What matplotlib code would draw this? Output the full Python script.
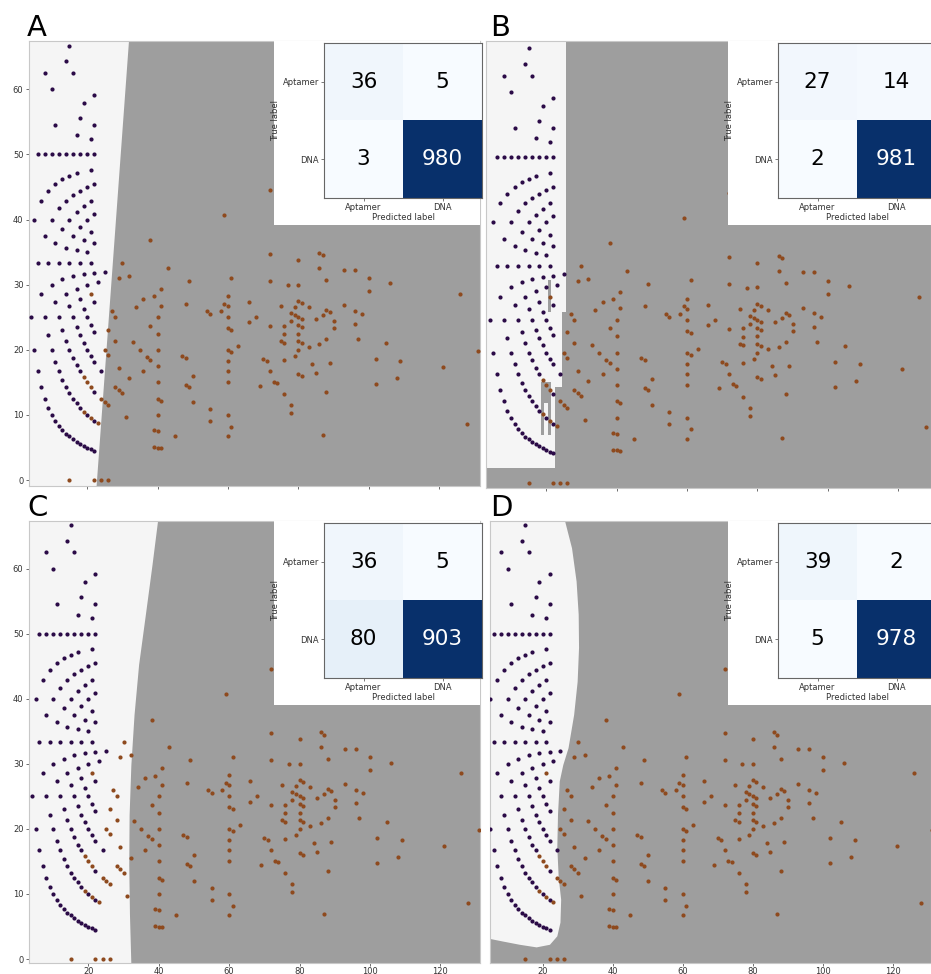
import numpy as np
import matplotlib
matplotlib.use('Agg')
import matplotlib.pyplot as plt
from matplotlib.patches import Polygon, Rectangle

W, H = 931, 974

# aptamer samples: length vs percentage
apt_x = [15, 14, 8, 16, 10, 22, 19, 18, 11, 22, 17, 21,
         6, 8, 10, 12, 14, 16, 18, 20, 22,
         21, 17, 15, 13, 11, 22, 20, 9, 18, 16, 7, 14, 21, 19, 12, 17, 22,
         5, 10, 15, 20,
         18, 13, 21, 8, 16, 19, 11, 22, 14, 17, 20,
         6, 9, 12, 15, 18, 21,
         25, 22, 19, 16, 13, 23, 10, 20, 17, 7, 14, 18, 11, 22, 15, 19,
         4, 8, 12, 16, 20,
         21, 17, 13, 22, 9, 18, 14, 19,
         5, 10, 15, 20,
         21, 16, 11, 22, 17, 6, 12, 18, 24, 13, 7, 14, 22, 15, 8, 16, 17, 9, 18, 10, 20, 11, 22,
         12, 13, 14, 15, 16, 17, 18, 19, 20, 21, 22]
apt_y = [66.7, 64.3, 62.5, 62.5, 60.0, 59.1, 57.9, 55.6, 54.5, 54.5, 52.9, 52.4,
         50, 50, 50, 50, 50, 50, 50, 50, 50,
         47.6, 47.1, 46.7, 46.2, 45.5, 45.5, 45.0, 44.4, 44.4, 43.8, 42.9, 42.9, 42.9, 42.1, 41.7, 41.2, 40.9,
         40, 40, 40, 40,
         38.9, 38.5, 38.1, 37.5, 37.5, 36.8, 36.4, 36.4, 35.7, 35.3, 35.0,
         33.3, 33.3, 33.3, 33.3, 33.3, 33.3,
         32.0, 31.8, 31.6, 31.3, 30.8, 30.4, 30.0, 30.0, 29.4, 28.6, 28.6, 27.8, 27.3, 27.3, 26.7, 26.3,
         25, 25, 25, 25, 25,
         23.8, 23.5, 23.1, 22.7, 22.2, 22.2, 21.4, 21.1,
         20, 20, 20, 20,
         19.0, 18.8, 18.2, 18.2, 17.6, 16.7, 16.7, 16.7, 16.7, 15.4, 14.3, 14.3, 13.6, 13.3, 12.5, 12.5, 11.8, 11.1, 11.1, 10.0, 10.0, 9.1, 9.1,
         8.3, 7.7, 7.1, 6.7, 6.3, 5.9, 5.6, 5.3, 5.0, 4.8, 4.5]

# DNA samples
dna_x = [15, 22, 24, 26,
         21, 19, 20, 21, 19, 21, 23, 24, 25, 26,
         30, 29, 32, 27, 28, 26, 28, 25, 26, 29, 32, 28, 29, 30, 31, 33,
         38, 59, 72,
         43, 49, 61, 72, 72, 80, 86, 87, 86, 88, 80, 77, 93, 96, 100, 100, 106, 126,
         34, 36, 39, 41, 41, 40, 38, 40, 35, 37, 38, 40, 40, 36, 40, 40, 41, 40, 39, 40, 39, 40, 41, 45,
         48, 47, 48, 50, 48, 49, 50,
         54, 55, 55, 55,
         59, 60, 60, 58, 60, 60, 61, 60, 61, 63, 60, 60, 60, 60, 61, 60,
         66, 66, 68, 69, 70, 71, 72, 72, 73, 74,
         75, 76, 76, 75, 76, 76, 76, 78, 78,
         78, 79, 80, 81, 79, 80, 81, 78, 80, 81, 80, 80, 81, 83, 83, 80, 79, 80, 81, 84, 85, 86, 85,
         87, 88, 89, 88, 90, 90, 89, 88, 87,
         93, 96, 96, 98, 97, 102, 102, 105, 108, 109, 121, 128, 131]
dna_y = [0, 0, 0, 0,
         28.6, 15.8, 15.0, 14.3, 10.5, 9.5, 8.7, 12.5, 12.0, 11.5,
         33.3, 31.0, 31.3, 25.9, 25.0, 23.1, 21.4, 20.0, 19.2, 17.2, 15.6, 14.3, 13.8, 13.3, 9.7, 21.2,
         36.8, 40.7, 44.5,
         32.6, 30.6, 31.1, 34.7, 30.6, 33.8, 34.9, 34.5, 32.6, 30.7, 30.0, 29.9, 32.3, 32.3, 31.0, 29.0, 30.2, 28.6,
         26.5, 27.8, 28.2, 29.3, 26.8, 25.0, 23.7, 22.5, 20.0, 18.9, 18.4, 20.0, 17.5, 16.7, 15.0, 12.5, 12.2, 10.0, 7.7, 7.5, 5.1, 5.0, 4.9, 6.7,
         27.1, 19.1, 18.8, 16.0, 14.6, 14.3, 12.0,
         25.9, 25.5, 10.9, 9.1,
         27.1, 28.3, 26.7, 25.9, 25.0, 23.3, 23.0, 20.0, 19.7, 20.6, 18.3, 16.7, 15.0, 10.0, 8.2, 6.7,
         27.3, 24.2, 25.0, 14.5, 18.6, 18.3, 23.6, 16.7, 15.1, 14.9,
         26.7, 23.7, 22.4, 21.3, 21.1, 18.4, 13.2, 11.5, 10.3,
         25.6, 26.6, 27.5, 27.2, 25.3, 25.0, 24.7, 24.4, 23.8, 23.5, 22.5, 21.3, 21.0, 26.5, 20.5, 20.0, 19.0, 16.3, 16.0, 17.9, 24.7, 20.9, 16.5,
         25.3, 26.1, 25.8, 21.6, 24.4, 23.3, 18.0, 13.6, 6.9,
         26.9, 26.0, 24.0, 25.5, 21.6, 18.6, 14.7, 21.0, 15.7, 18.3, 17.4, 8.6, 19.8]

class_names = ['Aptamer', 'DNA']
cm_linear = [[36, 5], [3, 980]]
cm_tree = [[27, 14], [2, 981]]
cm_poly = [[36, 5], [80, 903]]
cm_rbf = [[39, 2], [5, 978]]

# decision boundaries (aptamer side is the light region)
lin_bx = [31.9, 22.7]
lin_by = [67.4, -0.9]

tree_light = [(-10, 2.25), (-10, 80), (25.5, 80), (25.5, 26.3), (24.5, 26.3),
              (24.5, 14.7), (22.5, 14.7), (22.5, 2.25)]
tree_dark = [(20.5, 21.5, 26.3, 31.1), (18.5, 19.5, 7.3, 15.5),
             (19.5, 21.5, 12.2, 15.5), (20.5, 21.5, 7.3, 12.2)]

poly_bx = [40.6, 40.0, 38.2, 36.3, 34.4, 33.1, 32.2, 31.7, 31.6, 31.8, 32.2, 32.4]
poly_by = [72, 68.2, 60.5, 52.8, 45.2, 37.5, 29.8, 22.1, 14.4, 6.8, -0.9, -5]

rbf_bx = [25.5, 26.4, 28.4, 29.7, 30.3, 30.4, 30.0, 29.0, 27.4, 25.9, 24.9, 24.4, 24.2,
          24.6, 25.3, 25.1, 24.2, 22.1, 18.3, 13.5, 8.7, 5.0, -10]
rbf_by = [72, 67.3, 63.1, 58.0, 52.9, 47.8, 42.6, 37.5, 32.4, 29.8, 27.3, 22.2, 17.1,
          12.5, 9.1, 5.6, 3.5, 2.2, 1.8, 2.2, 2.7, 3.1, 3.3]

LIGHT = '#f5f5f5'
DARK = '#9e9e9e'
PURPLE = '#2b0b47'
ORANGE = '#8e4a1e'

fig = plt.figure(figsize=(W / 100, H / 100), dpi=100)


def px_axes(left, top, right, bottom):
    return fig.add_axes([left / W, 1 - bottom / H, (right - left) / W, (bottom - top) / H])


def base_panel(rect, xlim, ylim, ylabels, xlabels):
    ax = px_axes(*rect)
    ax.set_facecolor(DARK)
    ax.set_xlim(*xlim)
    ax.set_ylim(*ylim)
    ax.set_xticks([20, 40, 60, 80, 100, 120])
    ax.set_yticks([0, 10, 20, 30, 40, 50, 60])
    ax.tick_params(labelsize=6, length=2.5, width=0.6, pad=1.5, colors='#555555',
                   labelcolor='#333333')
    ax.tick_params(axis='x', length=2, pad=0.8)
    if not ylabels:
        ax.set_yticklabels([])
        ax.tick_params(axis='y', length=0)
    if not xlabels:
        ax.set_xticklabels([])
    for s in ax.spines.values():
        s.set_color('#c8c8c8')
        s.set_linewidth(0.8)
    return ax


def add_points(ax):
    ax.scatter(apt_x, apt_y, s=9, c=PURPLE, linewidths=0, zorder=3)
    ax.scatter(dna_x, dna_y, s=9, c=ORANGE, linewidths=0, zorder=3)


def draw_cm(bg_rect, cm_rect, cm):
    bg = px_axes(*bg_rect)
    bg.set_facecolor('white')
    bg.set_xticks([])
    bg.set_yticks([])
    for s in bg.spines.values():
        s.set_visible(False)
    cm = np.array(cm)
    ax = px_axes(*cm_rect)
    ax.imshow(cm, cmap='Blues', aspect='auto')
    thresh = (cm.max() + cm.min()) / 2
    for i in range(2):
        for j in range(2):
            ax.text(j, i, str(cm[i, j]), ha='center', va='center', fontsize=15.5,
                    color='white' if cm[i, j] > thresh else 'black')
    ax.set_xticks([0, 1], class_names)
    ax.set_yticks([0, 1], class_names)
    ax.tick_params(labelsize=6, length=2, width=0.5, pad=1.5, colors='#444444',
                   labelcolor='#333333')
    ax.set_xlabel('Predicted label', fontsize=6, labelpad=1, color='#333333')
    ax.set_ylabel('True label', fontsize=6, labelpad=2, color='#333333')
    for s in ax.spines.values():
        s.set_color('#666666')
        s.set_linewidth(0.8)


# A: linear kernel
axA = base_panel((29, 41, 480, 486), (3.5, 131.6), (-0.9, 67.4), True, False)
slope = (lin_bx[0] - lin_bx[1]) / (lin_by[0] - lin_by[1])
yb, yt = -10, 80
xb = lin_bx[1] + slope * (yb - lin_by[1])
xt = lin_bx[1] + slope * (yt - lin_by[1])
axA.add_patch(Polygon([(-10, yb), (xb, yb), (xt, yt), (-10, yt)], color=LIGHT, lw=0, zorder=1))
add_points(axA)

# B: decision tree
axB = base_panel((486, 41, 931, 488), (2.9, 129.3), (-0.8, 67.85), False, False)
axB.add_patch(Polygon(tree_light, color=LIGHT, lw=0, zorder=1))
for x0, x1, y0, y1 in tree_dark:
    axB.add_patch(Rectangle((x0, y0), x1 - x0, y1 - y0, color=DARK, lw=0, zorder=2))
add_points(axB)

# C: polynomial kernel
axC = base_panel((29, 521, 480, 963), (3.1, 131.3), (-0.6, 67.3), True, True)
axC.add_patch(Polygon([(-10, poly_by[-1])] + list(zip(poly_bx[::-1], poly_by[::-1])) + [(-10, poly_by[0])],
                      color=LIGHT, lw=0, zorder=1))
add_points(axC)

# D: rbf kernel
axD = base_panel((490, 521, 931, 963), (5.0, 130.8), (-0.6, 67.3), False, True)
axD.add_patch(Polygon([(-10, 72)] + list(zip(rbf_bx, rbf_by)), color=LIGHT, lw=0, zorder=1))
add_points(axD)

draw_cm((274, 41, 480, 225), (324, 43, 482, 198), cm_linear)
draw_cm((728, 41, 931, 225), (778, 43, 936, 198), cm_tree)
draw_cm((274, 521, 480, 705), (324, 523, 482, 678), cm_poly)
draw_cm((728, 521, 931, 705), (778, 523, 936, 678), cm_rbf)

for letter, x, y in [('A', 27, 36), ('B', 490, 36), ('C', 27, 516), ('D', 490, 516)]:
    fig.text(x / W, 1 - y / H, letter, fontsize=21, ha='left', va='baseline')

fig.savefig('out.png', dpi=100)
